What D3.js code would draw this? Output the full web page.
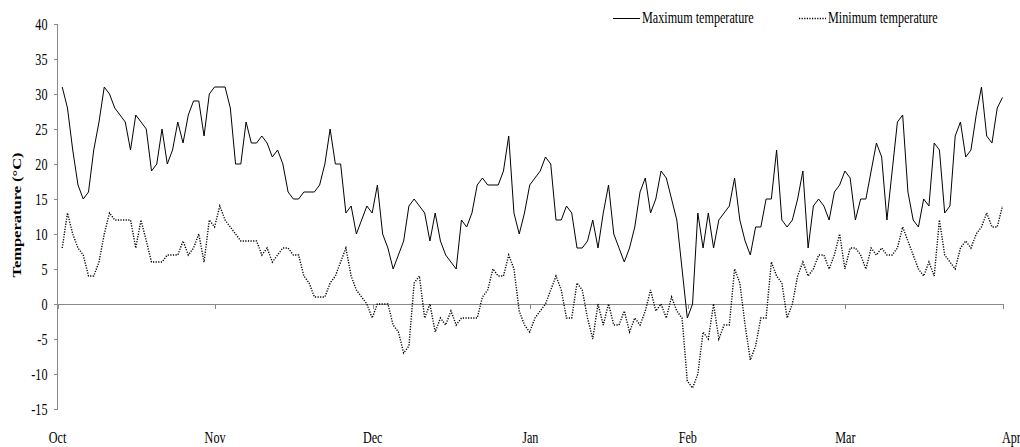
<!DOCTYPE html>
<html>
<head>
<meta charset="utf-8">
<script src="https://cdn.jsdelivr.net/npm/d3@7/dist/d3.min.js"></script>
<style>
  body { margin: 0; background: #fff; }
  svg { display: block; }
  text { font-family: "Liberation Serif", "Times New Roman", serif; fill: #000; }
  .axis-line { stroke: #8a8a8a; stroke-width: 1; fill: none; shape-rendering: crispEdges; }
  .max-line { stroke: #000; stroke-width: 1; fill: none; }
  .min-line { stroke: #000; stroke-width: 1.4; fill: none; stroke-dasharray: 1.2 1.4; }
</style>
</head>
<body>
<svg id="chart" width="1020" height="447"></svg>
<script>
// month labels, one every 30 days
var months = ['Oct', 'Nov', 'Dec', 'Jan', 'Feb', 'Mar', 'Apr'];
var yTicks = [40, 35, 30, 25, 20, 15, 10, 5, 0, -5, -10, -15];

// daily maximum temperature (°C)
var maxTemp = [
  31, 28, 22, 17, 15, 16, 22, 26, 31, 30,
  28, 27, 26, 22, 27, 26, 25, 19, 20, 25,
  20, 22, 26, 23, 27, 29, 29, 24, 30, 31,
  31, 31, 28, 20, 20, 26, 23, 23, 24, 23,
  21, 22, 20, 16, 15, 15, 16, 16, 16, 17,
  20, 25, 20, 20, 13, 14, 10, 12, 14, 13,
  17, 10, 8, 5, 7, 9, 14, 15, 14, 13,
  9, 13, 9, 7, 6, 5, 12, 11, 13, 17,
  18, 17, 17, 17, 19, 24, 13, 10, 13, 17,
  18, 19, 21, 20, 12, 12, 14, 13, 8, 8,
  9, 12, 8, 13, 17, 10, 8, 6, 8, 11,
  16, 18, 13, 15, 19, 18, 15, 12, 5, -2,
  0, 13, 8, 13, 8, 12, 13, 14, 18, 12,
  9, 7, 11, 11, 15, 15, 22, 12, 11, 12,
  15, 19, 8, 14, 15, 14, 12, 16, 17, 19,
  18, 12, 15, 15, 19, 23, 21, 12, 19, 26,
  27, 16, 12, 11, 15, 14, 23, 22, 13, 14,
  24, 26, 21, 22, 27, 31, 24, 23, 28, 29.5
];

// daily minimum temperature (°C)
var minTemp = [
  8, 13, 10, 8, 7, 4, 4, 6, 10, 13,
  12, 12, 12, 12, 8, 12, 9, 6, 6, 6,
  7, 7, 7, 9, 7, 8, 10, 6, 12, 11,
  14, 12, 11, 10, 9, 9, 9, 9, 7, 8,
  6, 7, 8, 8, 7, 7, 4, 3, 1, 1,
  1, 3, 4, 6, 8, 4, 2, 1, 0, -2,
  0, 0, 0, -3, -4, -7, -6, 3, 4, -2,
  0, -4, -2, -3, -1, -3, -2, -2, -2, -2,
  1, 2, 5, 4, 4, 7, 5, -1, -3, -4,
  -2, -1, 0, 2, 4, 2, -2, -2, 3, 2,
  -2, -5, 0, -3, 0, -3, -3, -1, -4, -2,
  -3, -1, 2, -1, 0, -2, 1, -1, -2, -11,
  -12, -10, -4, -5, 0, -5, -3, -3, 5, 3,
  -3, -8, -6, -2, -2, 6, 4, 3, -2, 0,
  4, 6, 4, 5, 7, 7, 5, 7, 10, 5,
  8, 8, 7, 5, 8, 7, 8, 7, 7, 8,
  11, 9, 7, 5, 4, 6, 4, 12, 7, 6,
  5, 8, 9, 8, 10, 11, 13, 11, 11, 14
];

var svg = d3.select('#chart');
var squeeze = 0.76; // text in the picture is narrow

var x = d3.scaleLinear().domain([0, 180]).range([57.5, 1003]);
var y = d3.scaleLinear().domain([-15, 40]).range([409, 24]);
var offset = 0.9; // first reading sits a little right of the axis

// puts a narrowed text at a point
var place = function(sel, px, py, extra) {
  sel.attr('transform', 'translate(' + px + ',' + py + ') scale(' + squeeze + ',1)' + (extra || ''));
};

//y axis
var yAxis = svg.append('g').attr('class', 'y-axis');
yAxis.append('line')
  .attr('class', 'axis-line')
  .attr('x1', x(0)).attr('x2', x(0))
  .attr('y1', y(40)).attr('y2', y(-15));
yAxis.selectAll('.tick').data(yTicks).enter()
  .append('g')
  .call(function(g) {
    g.append('line')
      .attr('class', 'axis-line')
      .attr('x1', x(0) - 4).attr('x2', x(0))
      .attr('y1', function(d) { return Math.round(y(d)) + 0.5; })
      .attr('y2', function(d) { return Math.round(y(d)) + 0.5; });
    g.append('text')
      .attr('text-anchor', 'end')
      .style('font-size', '16px')
      .each(function(d) { place(d3.select(this), 47.5, y(d) + 5.5); })
      .text(function(d) { return d; });
  });

//x axis on the zero line, labels at the bottom
var xAxis = svg.append('g').attr('class', 'x-axis');
xAxis.append('line')
  .attr('class', 'axis-line')
  .attr('x1', x(0)).attr('x2', x(180))
  .attr('y1', Math.round(y(0)) + 0.5).attr('y2', Math.round(y(0)) + 0.5);
xAxis.selectAll('.tick').data(months).enter()
  .append('g')
  .call(function(g) {
    g.append('line')
      .attr('class', 'axis-line')
      .attr('x1', function(d, i) { return Math.round(x(i * 30)) + 0.5; })
      .attr('x2', function(d, i) { return Math.round(x(i * 30)) + 0.5; })
      .attr('y1', y(0)).attr('y2', y(0) + 5);
    g.append('text')
      .attr('text-anchor', function(d, i) { return i === months.length - 1 ? 'start' : 'middle'; })
      .style('font-size', '16px')
      .each(function(d, i) {
        var px = x(i * 30) + (i === months.length - 1 ? -1 : 0);
        place(d3.select(this), px, 443);
      })
      .text(function(d) { return d; });
  });

//axis title
svg.append('text')
  .attr('text-anchor', 'middle')
  .style('font-size', '16.5px')
  .style('font-weight', 'bold')
  .attr('transform', 'translate(21,215) scale(' + squeeze + ',1) rotate(-90)')
  .text('Temperature (°C)');

//series
var line = d3.line()
  .x(function(d, i) { return x(i + offset); })
  .y(function(d) { return y(d); });

svg.append('path').attr('class', 'max-line').datum(maxTemp).attr('d', line);
svg.append('path').attr('class', 'min-line').datum(minTemp).attr('d', line);

//legend
var legend = svg.append('g').attr('class', 'legend');
[
  { name: 'Maximum temperature', cls: 'max-line', x0: 613 },
  { name: 'Minimum temperature', cls: 'min-line', x0: 799 }
].forEach(function(item) {
  legend.append('line')
    .attr('class', item.cls)
    .attr('x1', item.x0).attr('x2', item.x0 + 27)
    .attr('y1', 18.5).attr('y2', 18.5);
  legend.append('text')
    .style('font-size', '16px')
    .call(place, item.x0 + 29, 23)
    .text(item.name);
});
</script>
</body>
</html>
